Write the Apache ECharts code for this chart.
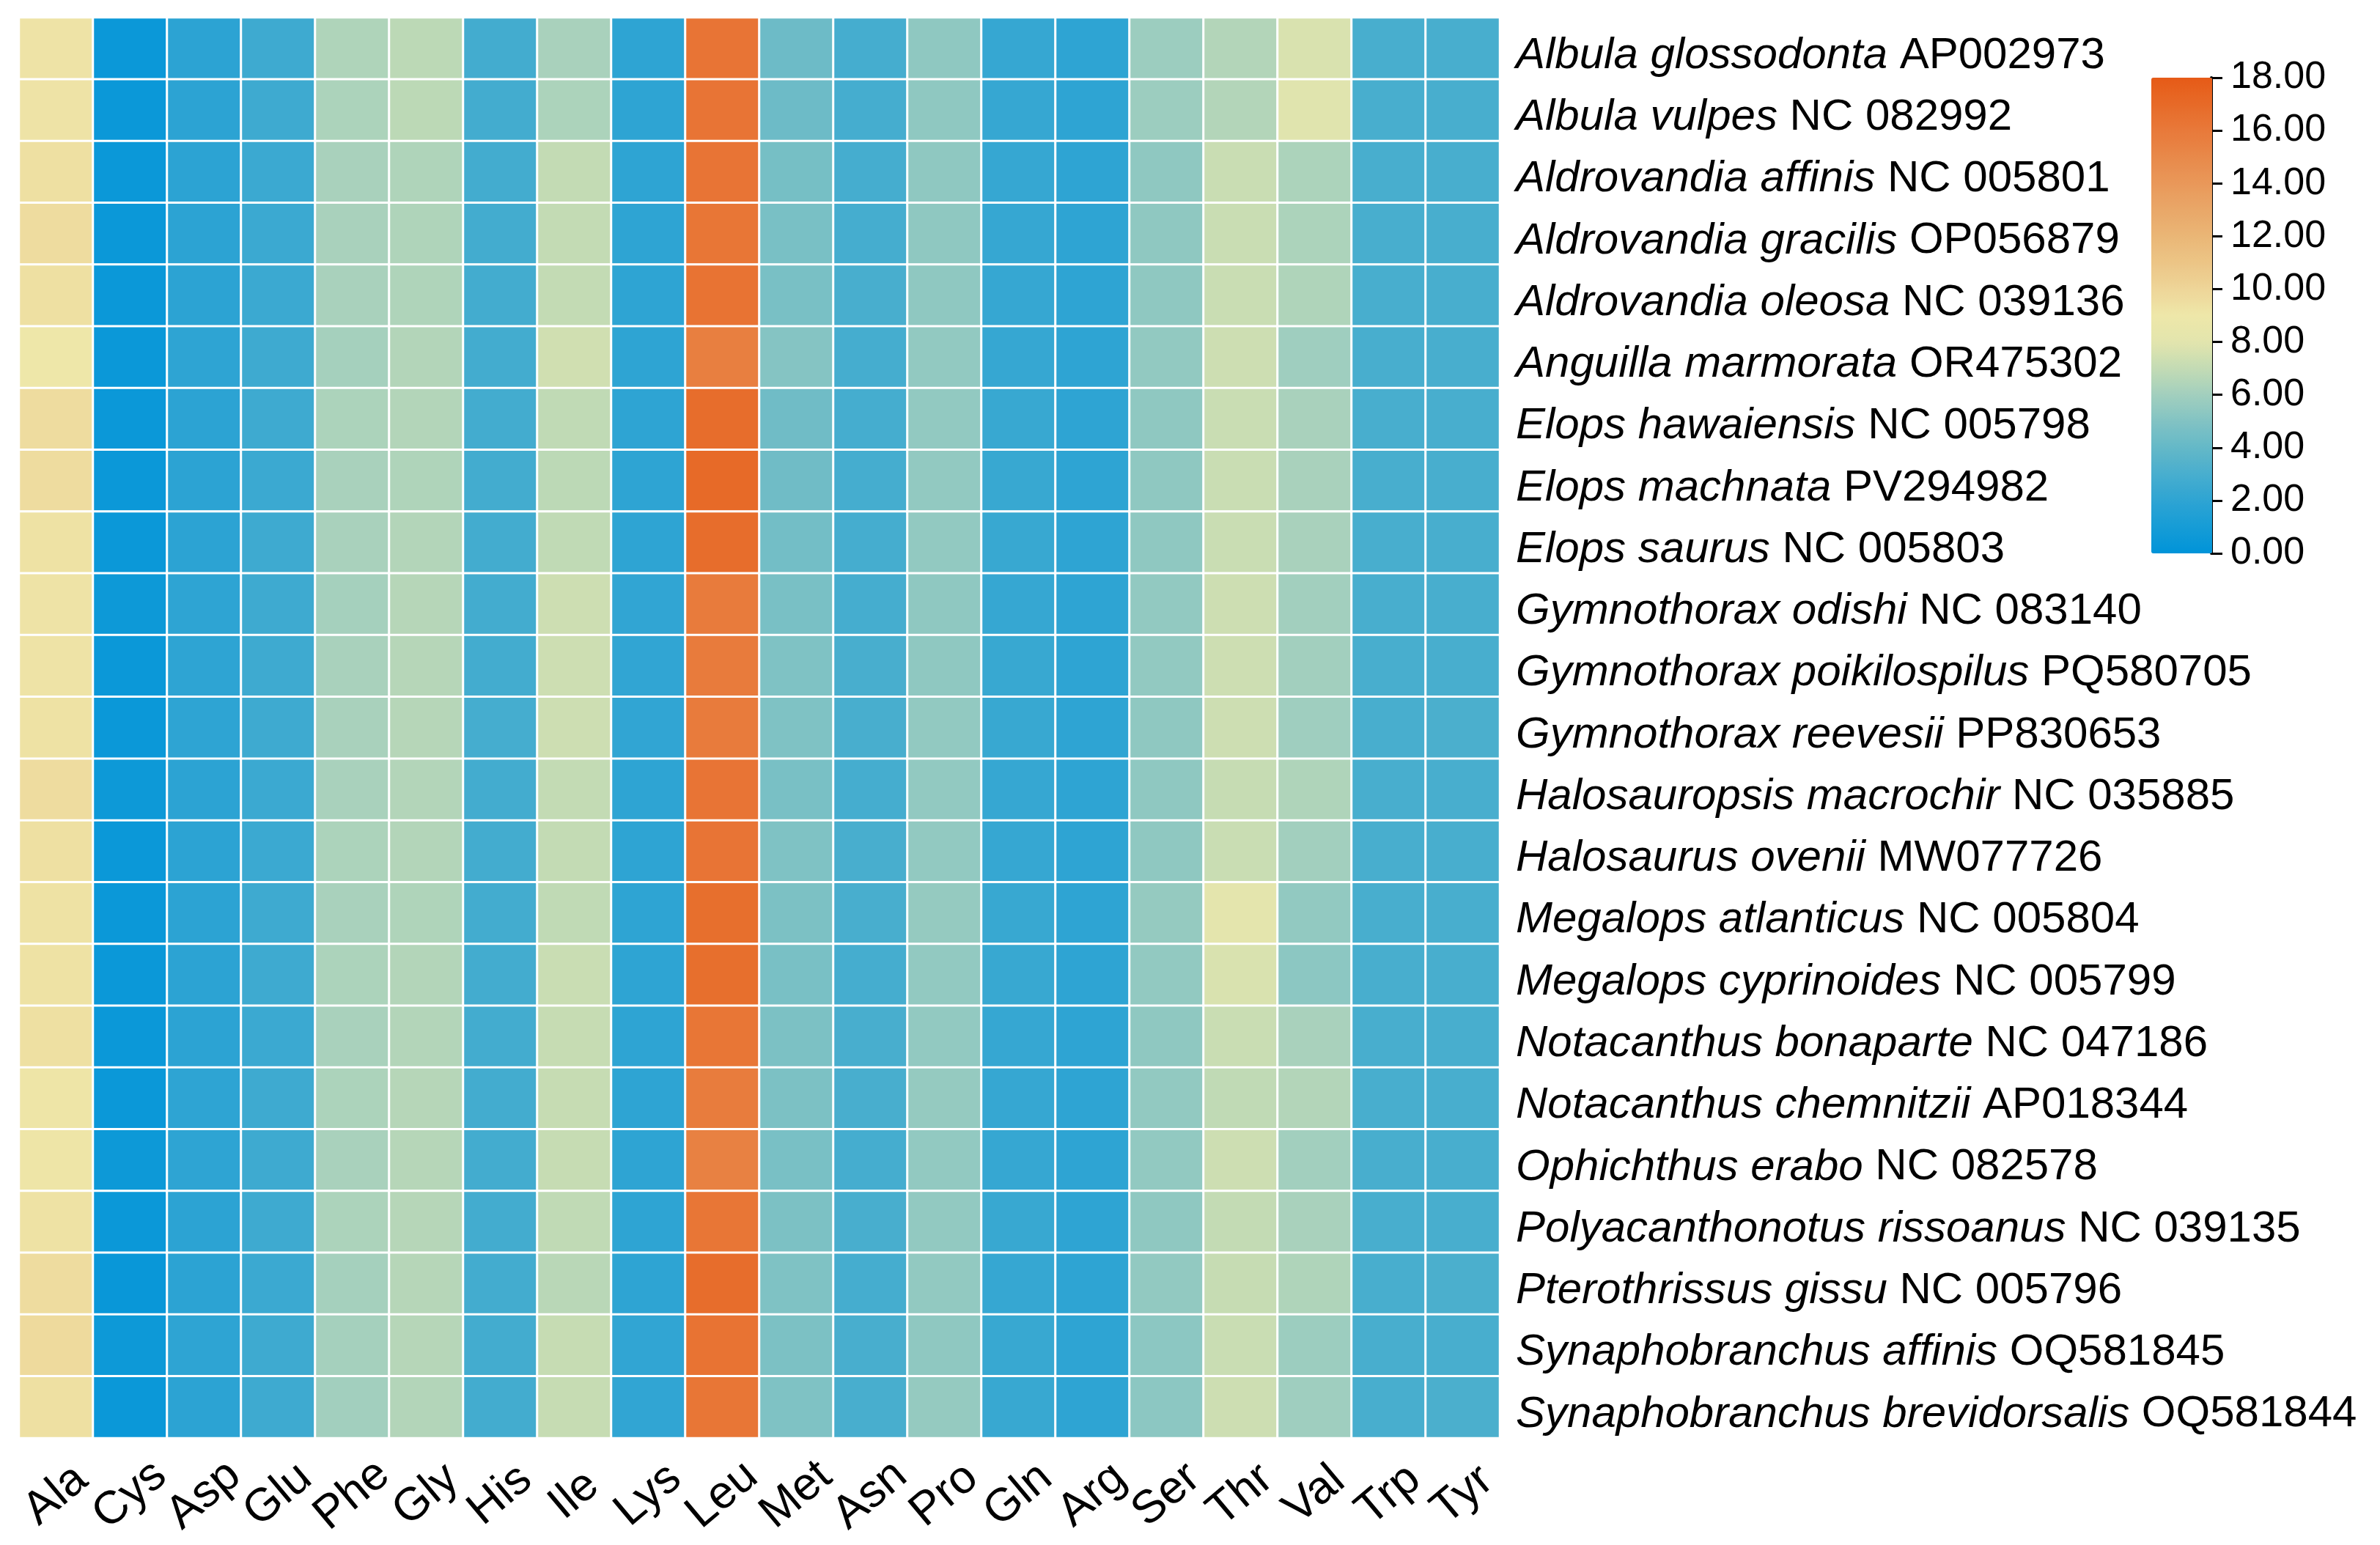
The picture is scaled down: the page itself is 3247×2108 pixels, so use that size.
<!DOCTYPE html>
<html>
<head>
<meta charset="utf-8">
<script src="https://cdn.jsdelivr.net/npm/echarts@6/dist/echarts.min.js"></script>
<style>
  html, body { margin: 0; padding: 0; background: #fff; }
  #main { width: 3247px; height: 2108px; }
</style>
</head>
<body>
<div id="main"></div>
<script>
// amino acids (columns)
var aminoAcids = ["Ala", "Cys", "Asp", "Glu", "Phe", "Gly", "His", "Ile", "Lys", "Leu",
  "Met", "Asn", "Pro", "Gln", "Arg", "Ser", "Thr", "Val", "Trp", "Tyr"];

// species (rows, top to bottom) and their accession numbers
var species = ["Albula glossodonta", "Albula vulpes", "Aldrovandia affinis", "Aldrovandia gracilis",
  "Aldrovandia oleosa", "Anguilla marmorata", "Elops hawaiensis", "Elops machnata", "Elops saurus",
  "Gymnothorax odishi", "Gymnothorax poikilospilus", "Gymnothorax reevesii", "Halosauropsis macrochir",
  "Halosaurus ovenii", "Megalops atlanticus", "Megalops cyprinoides", "Notacanthus bonaparte",
  "Notacanthus chemnitzii", "Ophichthus erabo", "Polyacanthonotus rissoanus", "Pterothrissus gissu",
  "Synaphobranchus affinis", "Synaphobranchus brevidorsalis"];
var accessions = ["AP002973", "NC 082992", "NC 005801", "OP056879", "NC 039136", "OR475302",
  "NC 005798", "PV294982", "NC 005803", "NC 083140", "PQ580705", "PP830653", "NC 035885",
  "MW077726", "NC 005804", "NC 005799", "NC 047186", "AP018344", "NC 082578", "NC 039135",
  "NC 005796", "OQ581845", "OQ581844"];

// composition (%) per amino acid, one value per species in the order above
var ala = [9.2, 9.2, 9.4, 9.6, 9.4, 9.0, 9.6, 9.6, 9.3, 9.2, 9.2, 9.3, 9.6, 9.4, 9.3, 9.3, 9.4, 9.1, 9.1, 9.3, 9.6, 9.7, 9.4];
var cys = [0.5, 0.5, 0.5, 0.5, 0.5, 0.5, 0.5, 0.5, 0.5, 0.6, 0.5, 0.5, 0.6, 0.5, 0.5, 0.5, 0.5, 0.5, 0.6, 0.5, 0.4, 0.6, 0.5];
var asp = [1.9, 1.9, 1.9, 1.9, 1.9, 2.0, 1.9, 1.9, 1.9, 2.0, 2.0, 2.0, 1.9, 1.9, 1.9, 1.9, 1.9, 2.0, 2.0, 1.9, 1.9, 2.0, 1.9];
var glu = [2.6, 2.6, 2.5, 2.5, 2.5, 2.6, 2.6, 2.5, 2.6, 2.6, 2.6, 2.6, 2.5, 2.5, 2.6, 2.6, 2.5, 2.6, 2.6, 2.6, 2.5, 2.6, 2.6];
var phe = [6.4, 6.3, 6.2, 6.2, 6.2, 6.1, 6.3, 6.2, 6.2, 6.1, 6.2, 6.2, 6.2, 6.3, 6.2, 6.3, 6.2, 6.3, 6.2, 6.3, 6.1, 6.1, 6.0];
var gly = [6.8, 6.8, 6.4, 6.4, 6.4, 6.5, 6.5, 6.4, 6.5, 6.6, 6.6, 6.6, 6.5, 6.5, 6.4, 6.5, 6.5, 6.6, 6.6, 6.6, 6.6, 6.6, 6.5];
var his = [2.8, 2.8, 2.8, 2.8, 2.8, 2.8, 2.8, 2.8, 2.8, 2.8, 2.8, 2.9, 2.8, 2.8, 2.8, 2.8, 2.8, 2.8, 2.8, 2.8, 2.8, 2.8, 2.8];
var ile = [6.2, 6.3, 7.0, 7.0, 7.0, 7.4, 6.9, 6.8, 6.9, 7.3, 7.3, 7.3, 7.0, 7.0, 6.9, 7.2, 7.1, 7.1, 7.1, 6.9, 6.7, 7.1, 7.1];
var lys = [2.0, 2.0, 2.0, 2.0, 2.0, 2.0, 2.0, 2.0, 2.0, 2.1, 2.1, 2.1, 2.0, 2.0, 2.0, 2.0, 2.0, 2.0, 2.0, 2.0, 2.0, 2.1, 2.1];
var leu = [16.3, 16.3, 16.3, 16.2, 16.4, 15.6, 16.8, 17.0, 16.8, 15.9, 15.9, 15.9, 16.3, 16.3, 16.7, 16.7, 16.2, 15.8, 15.5, 16.2, 16.8, 16.4, 16.2];
var met = [4.3, 4.3, 4.6, 4.7, 4.7, 5.1, 4.4, 4.4, 4.5, 4.7, 4.9, 4.9, 4.7, 4.9, 4.8, 4.7, 4.8, 4.8, 4.7, 4.8, 4.9, 4.8, 4.9];
var asn = [2.9, 2.9, 2.9, 2.9, 3.0, 2.9, 2.9, 2.9, 2.9, 2.9, 3.0, 3.0, 2.9, 3.0, 3.0, 2.9, 3.0, 3.0, 2.9, 3.0, 2.9, 3.0, 3.0];
var pro = [5.4, 5.4, 5.4, 5.4, 5.4, 5.5, 5.5, 5.5, 5.5, 5.4, 5.4, 5.5, 5.5, 5.5, 5.6, 5.5, 5.5, 5.6, 5.5, 5.5, 5.5, 5.4, 5.6];
var gln = [2.3, 2.3, 2.3, 2.3, 2.3, 2.3, 2.4, 2.4, 2.4, 2.3, 2.4, 2.4, 2.3, 2.3, 2.4, 2.4, 2.3, 2.3, 2.3, 2.4, 2.3, 2.4, 2.4];
var arg = [2.0, 2.0, 2.0, 2.0, 2.0, 2.0, 2.0, 2.0, 2.0, 2.0, 2.0, 2.0, 2.0, 2.0, 2.0, 2.0, 2.0, 2.0, 2.0, 2.0, 2.0, 2.0, 2.0];
var ser = [5.8, 5.8, 5.4, 5.4, 5.4, 5.5, 5.4, 5.4, 5.4, 5.5, 5.5, 5.4, 5.4, 5.4, 5.6, 5.5, 5.4, 5.5, 5.5, 5.4, 5.5, 5.3, 5.3];
var thr = [6.5, 6.5, 7.2, 7.2, 7.2, 7.3, 7.2, 7.2, 7.2, 7.3, 7.3, 7.3, 7.1, 7.2, 8.1, 7.7, 7.2, 6.9, 7.3, 7.0, 7.1, 7.2, 7.3];
var val = [7.7, 7.9, 6.3, 6.3, 6.4, 5.9, 6.2, 6.2, 6.2, 6.0, 6.0, 5.9, 6.4, 6.0, 5.5, 5.3, 6.2, 6.5, 6.0, 6.2, 6.4, 5.8, 5.9];
var trp = [3.0, 3.0, 3.0, 3.0, 3.0, 3.0, 3.0, 3.0, 3.0, 3.0, 3.0, 3.0, 3.0, 3.0, 3.0, 3.0, 3.0, 3.0, 3.0, 3.0, 3.0, 3.0, 3.0];
var tyr = [3.0, 3.0, 3.0, 3.0, 3.0, 3.0, 3.0, 3.0, 3.0, 3.0, 3.0, 3.1, 3.0, 3.0, 3.0, 3.0, 3.0, 3.0, 3.0, 3.0, 3.1, 3.0, 3.1];

var columns = [ala, cys, asp, glu, phe, gly, his, ile, lys, leu, met, asn, pro, gln, arg, ser, thr, val, trp, tyr];

// colour bar scale
var scaleMin = 0, scaleMax = 18, scaleStep = 2;
var palette = ["#0094d9", "#169cd6", "#2ea4d3", "#48aece", "#64b8c8", "#82c3c3", "#a2cfbe", "#c3dbb4",
  "#e3e5ad", "#eee7a9", "#eed598", "#ecc586", "#eab676", "#e9a768", "#e9985a", "#e8894a",
  "#e8793a", "#e76a28", "#e65a17"];

window.onload = function () {
  var chart = echarts.init(document.getElementById("main"));

  var cells = [];
  columns.forEach(function (col, x) {
    col.forEach(function (v, y) {
      cells.push([x, y, v]);
    });
  });

  var font = "'Liberation Sans', Arial, sans-serif";

  var option = {
    backgroundColor: "#fff",
    animation: false,
    grid: [
      { left: 26, top: 24, width: 2020, height: 1938, outerBoundsMode: "none" },
      { left: 3017, top: 106, width: 1, height: 649, outerBoundsMode: "none" }
    ],
    xAxis: [
      {
        type: "category",
        data: aminoAcids,
        gridIndex: 0,
        axisLine: { show: false },
        axisTick: { show: false },
        splitArea: { show: false },
        axisLabel: {
          interval: 0,
          rotate: 40,
          align: "center",
          verticalAlign: "middle",
          margin: 78,
          color: "#000",
          fontSize: 63,
          fontFamily: font
        }
      },
      { type: "value", gridIndex: 1, show: false, min: 0, max: 1 }
    ],
    yAxis: [
      {
        type: "category",
        data: species,
        gridIndex: 0,
        inverse: true,
        position: "right",
        axisLine: { show: false },
        axisTick: { show: false },
        splitArea: { show: false },
        axisLabel: {
          interval: 0,
          margin: 22,
          padding: [20, 0, 0, 0],
          color: "#000",
          fontSize: 60,
          fontFamily: font,
          formatter: function (value, idx) {
            return "{sp|" + value + "} {acc|" + accessions[idx] + "}";
          },
          rich: {
            sp: { fontStyle: "italic", fontSize: 60, fontFamily: font, color: "#000" },
            acc: { fontSize: 60, fontFamily: font, color: "#000" }
          }
        }
      },
      {
        type: "value",
        gridIndex: 1,
        position: "right",
        min: scaleMin,
        max: scaleMax,
        interval: scaleStep,
        axisLine: { show: true, lineStyle: { color: "#000", width: 4 } },
        axisTick: { show: true, length: 15, lineStyle: { color: "#000", width: 3 } },
        splitLine: { show: false },
        axisLabel: {
          margin: 25,
          color: "#000",
          fontSize: 52,
          fontFamily: font,
          formatter: function (v) { return v.toFixed(2); }
        }
      }
    ],
    visualMap: {
      type: "continuous",
      min: scaleMin,
      max: scaleMax,
      calculable: false,
      orient: "vertical",
      left: 2935,
      top: 106,
      itemWidth: 83,
      itemHeight: 649,
      padding: 0,
      text: null,
      showLabel: false,
      seriesIndex: 0,
      inRange: { color: palette }
    },
    series: [
      {
        type: "heatmap",
        xAxisIndex: 0,
        yAxisIndex: 0,
        data: cells,
        itemStyle: { borderColor: "#fff", borderWidth: 3 },
        emphasis: { disabled: true }
      }
    ]
  };

  chart.setOption(option);
};
</script>
</body>
</html>
